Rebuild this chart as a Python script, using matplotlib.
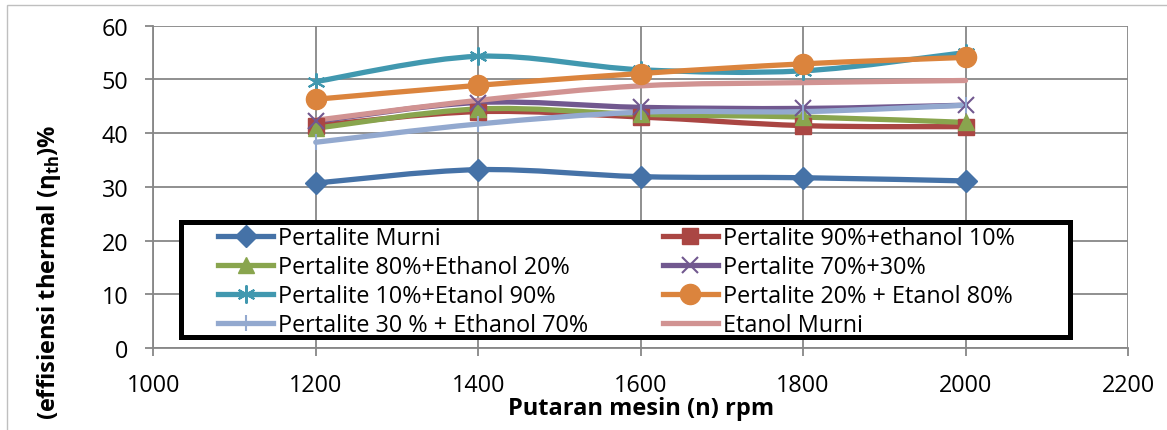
import numpy as np
import matplotlib
matplotlib.use('Agg')
import matplotlib.pyplot as plt
from matplotlib.path import Path
from matplotlib.patches import PathPatch, Rectangle
from matplotlib.lines import Line2D

plt.rcParams['font.family'] = ['Open Sans', 'DejaVu Sans']
plt.rcParams['mathtext.fontset'] = 'custom'
plt.rcParams['mathtext.rm'] = 'Open Sans'
plt.rcParams['mathtext.bf'] = 'Open Sans:bold'

# Data
rpm = [1200, 1400, 1600, 1800, 2000]

pertalite_murni = [30.7, 33.2, 31.9, 31.7, 31.1]
p90_e10 = [41.4, 44.0, 43.0, 41.4, 41.2]
p80_e20 = [40.9, 44.5, 43.5, 43.0, 42.0]
p70_e30 = [42.2, 45.7, 44.8, 44.6, 45.2]
p10_e90 = [49.6, 54.3, 51.8, 51.6, 55.0]
p20_e80 = [46.3, 48.9, 51.1, 52.9, 54.1]
p30_e70 = [38.3, 41.7, 43.9, 44.0, 45.2]
etanol_murni = [42.4, 46.1, 48.8, 49.4, 49.8]

labels = [
    'Pertalite Murni',
    'Pertalite 90%+ethanol 10%',
    'Pertalite 80%+Ethanol 20%',
    'Pertalite 70%+30%',
    'Pertalite 10%+Etanol 90%',
    'Pertalite 20% + Etanol 80%',
    'Pertalite 30 % + Ethanol 70%',
    'Etanol Murni',
]
series = [pertalite_murni, p90_e10, p80_e20, p70_e30,
          p10_e90, p20_e80, p30_e70, etanol_murni]
colors = ['#4572A7', '#AA4643', '#89A54E', '#71588F',
          '#4198AF', '#DB843D', '#93A9CF', '#D19392']
markers = ['D', 's', '^', 'x', (6, 2, 0), 'o', '|', None]
msizes = [11, 12, 12, 11.5, 13, 14.5, 12, 0]

W, H = 1167, 431  # figure size in pixels


def smooth_path(x, y):
    """Bezier path through the points (Excel-style smoothed line)."""
    pts = np.column_stack([x, y]).astype(float)
    n = len(pts)
    verts = [pts[0]]
    codes = [Path.MOVETO]
    for i in range(n - 1):
        p0 = pts[i - 1] if i > 0 else pts[i]
        p1 = pts[i]
        p2 = pts[i + 1]
        p3 = pts[i + 2] if i + 2 < n else pts[i + 1]
        c1 = p1 + (p2 - p0) / 6.0
        c2 = p2 - (p3 - p1) / 6.0
        verts += [c1, c2, p2]
        codes += [Path.CURVE4] * 3
    return Path(verts, codes)


fig = plt.figure(figsize=(W / 100, H / 100), dpi=100)
ax = fig.add_axes([153.3 / W, 1 - 349 / H, 974.7 / W, 322.3 / H])

grid_c = '#878787'
handles = []
for vals, lab, c, m, ms in zip(series, labels, colors, markers, msizes):
    ax.add_patch(PathPatch(smooth_path(rpm, vals), fill=False, edgecolor=c,
                           lw=3.8, capstyle='round', joinstyle='round', zorder=3))
    mew = 1.5 if (m in ('x', '|') or isinstance(m, tuple)) else 1
    if m is not None:
        ax.plot(rpm, vals, linestyle='none', marker=m, ms=ms, color=c,
                markeredgewidth=mew, zorder=4)
    handles.append(Line2D([], [], color=c, lw=3.8, marker=m, ms=ms,
                          markeredgewidth=mew))

ax.set_xlim(1000, 2200)
ax.set_ylim(0, 60)
ax.set_xticks(np.arange(1000, 2201, 200))
ax.set_yticks(np.arange(0, 61, 10))
ax.grid(True, color=grid_c, lw=1.3)
ax.set_axisbelow(True)
for s in ['top', 'right']:
    ax.spines[s].set_visible(False)
for s in ['left', 'bottom']:
    ax.spines[s].set_color(grid_c)
    ax.spines[s].set_linewidth(1.3)
ax.tick_params(colors=grid_c, labelcolor='black', labelsize=16.8,
               length=6, width=1.3, direction='out')
ax.tick_params(axis='x', pad=12)
ax.tick_params(axis='y', pad=12)

ax.set_xlabel('Putaran mesin (n) rpm', fontsize=17, fontweight='bold')
ax.xaxis.set_label_coords(0.5, -0.148)
ax.set_ylabel(r'(effisiensi thermal (η$_{\mathbf{th}}$)%', fontsize=17,
              fontweight='bold')
ax.yaxis.set_label_coords(-0.093, 0.2376)

# legend box, white with a thick black frame
ax.add_patch(Rectangle((180.5 / W, 1 - 338 / H), 889.5 / W, 115.5 / H,
                       transform=fig.transFigure, facecolor='white',
                       edgecolor='black', lw=3.6, zorder=9, clip_on=False))

# legend filled row by row
order = [0, 2, 4, 6, 1, 3, 5, 7]
leg = ax.legend([handles[i] for i in order], [labels[i] for i in order],
                ncol=2, loc='upper left',
                bbox_to_anchor=(214.3 / W, 1 - 223.3 / H),
                bbox_transform=fig.transFigure,
                fontsize=16.8, frameon=False,
                handlelength=2.36, handletextpad=0.21, columnspacing=3.2,
                labelspacing=0.21, borderpad=0.16, borderaxespad=0)
leg.set_zorder(10)

fig.patches.append(Rectangle((6.5 / W, -0.05), 1.1, 1.05 - 5.5 / H,
                             transform=fig.transFigure, fill=False,
                             edgecolor='#bfbfbf', lw=1))

fig.savefig('out.png', dpi=100)
